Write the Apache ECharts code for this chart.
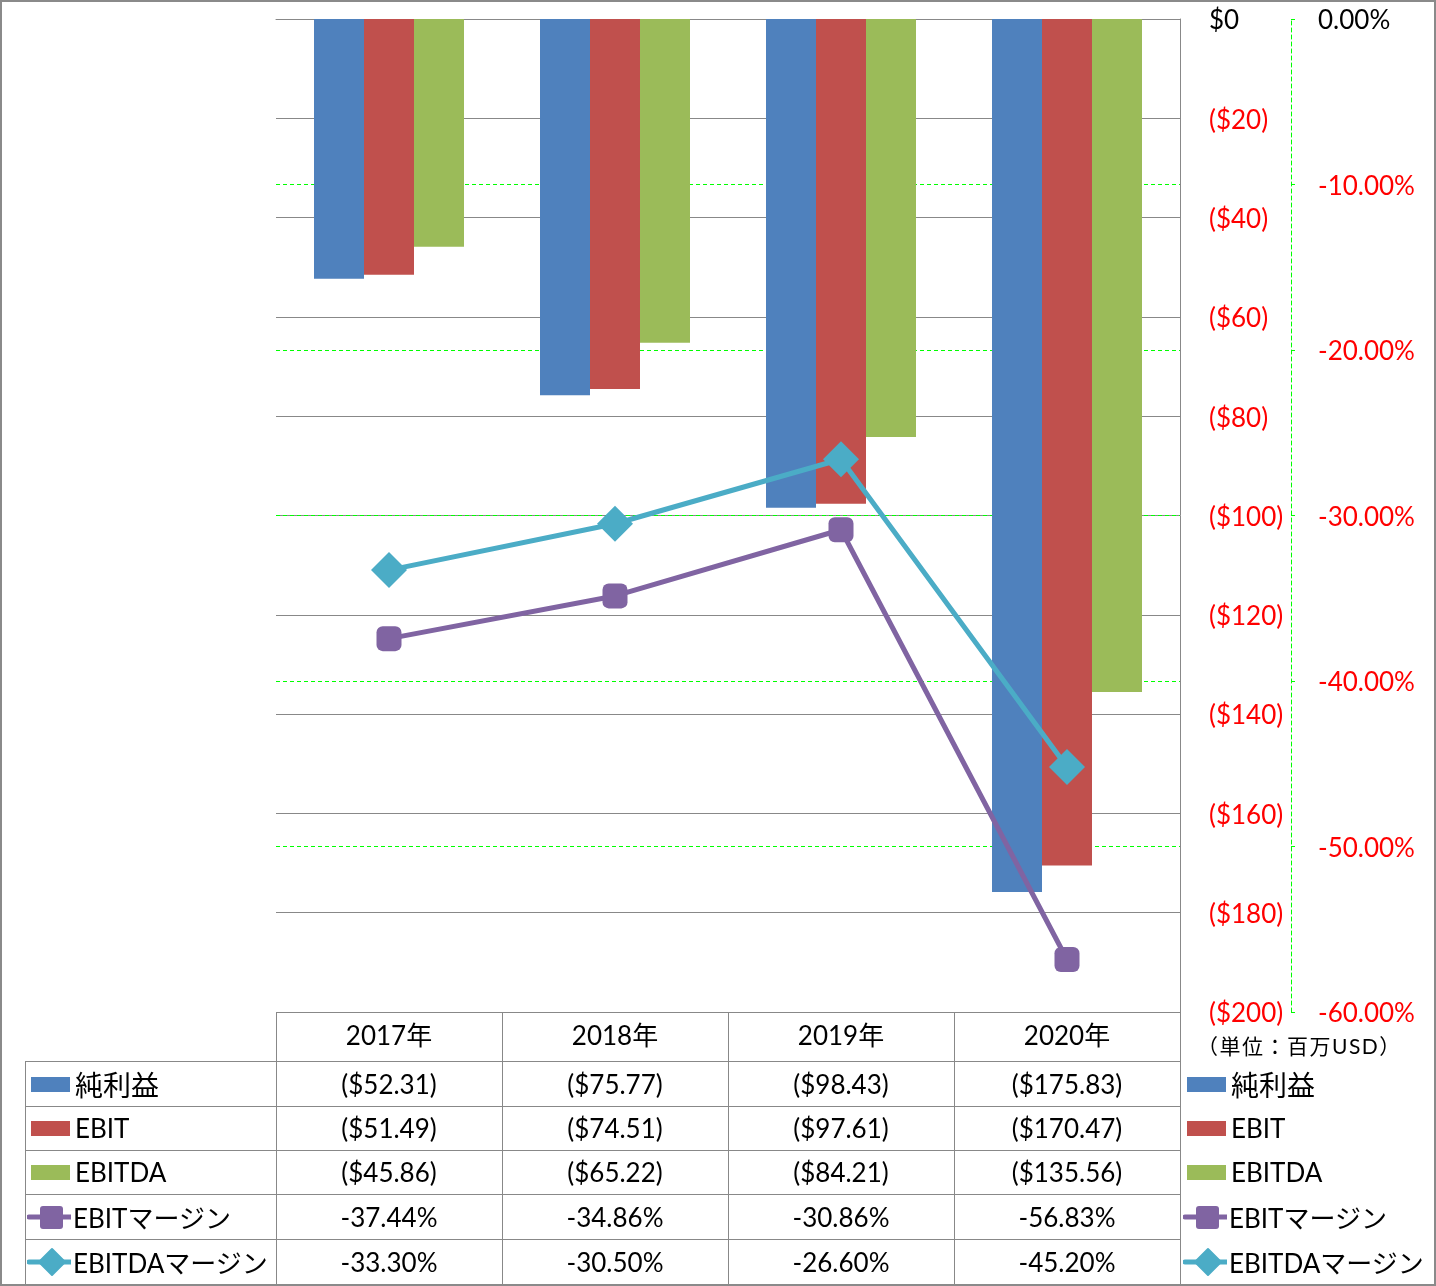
<!DOCTYPE html>
<html><head><meta charset="utf-8">
<script src="https://cdn.jsdelivr.net/npm/echarts@6/dist/echarts.min.js"></script>
<style>
html,body{margin:0;padding:0;background:#fff;}
#wrap{position:relative;width:1436px;height:1286px;overflow:hidden;font-family:Lato,'Noto Sans CJK JP',sans-serif;}
#chart{position:absolute;left:0;top:0;width:1436px;height:1286px;}
#over{position:absolute;left:0;top:0;width:1436px;height:1286px;pointer-events:none;}
.ln{position:absolute;background:#888;}
.cell{position:absolute;display:flex;align-items:center;justify-content:center;font-size:26px;color:#000;white-space:nowrap;}
.lab{position:absolute;display:flex;align-items:center;font-size:26px;color:#000;white-space:nowrap;}
#frame{position:absolute;left:0;top:0;width:1436px;height:1286px;box-sizing:border-box;border:2px solid #8a8a8a;pointer-events:none;}
</style></head>
<body>
<div id="wrap"><div id="chart"></div><div id="over"></div><div id="frame"></div></div>
<script>
// ---- data ----
const years = ['2017年', '2018年', '2019年', '2020年'];
const seriesNames = ['純利益', 'EBIT', 'EBITDA', 'EBITマージン', 'EBITDAマージン'];
const netIncome = [-52.31, -75.77, -98.43, -175.83];
const ebit = [-51.49, -74.51, -97.61, -170.47];
const ebitda = [-45.86, -65.22, -84.21, -135.56];
const ebitMargin = [-37.44, -34.86, -30.86, -56.83];
const ebitdaMargin = [-33.30, -30.50, -26.60, -45.20];
const unitLabel = '（単位：百万USD）';
const colors = ['#4F81BD', '#C0504D', '#9BBB59', '#8064A2', '#4BACC6'];

const FONT = "Lato, 'Noto Sans CJK JP', sans-serif";
const fmtMoney = v => '($' + Math.abs(v).toFixed(2) + ')';
const fmtPct = v => v.toFixed(2) + '%';

const chart = echarts.init(document.getElementById('chart'), null, {renderer: 'canvas'});
const dash = [4, 3];
const richB = {color: '#000', fontSize: 26, fontFamily: FONT, padding: [4, 0, 0, 0]};
const richR = {color: '#ff0000', fontSize: 26, fontFamily: FONT, padding: [4, 0, 0, 0]};
chart.setOption({
  animation: false,
  grid: {left: 276, top: 19, width: 904, height: 993, containLabel: false},
  xAxis: {
    type: 'category', data: years,
    axisLine: {show: true, lineStyle: {color: '#888', width: 1}},
    axisTick: {show: false},
    axisLabel: {fontSize: 26, color: '#000', margin: 12, fontFamily: FONT},
    splitLine: {show: false}
  },
  yAxis: [
    {
      type: 'value', min: -200, max: 0, interval: 20, position: 'right',
      axisLine: {show: true, lineStyle: {color: '#888', width: 1}},
      axisTick: {show: false},
      axisLabel: {
        margin: 29, fontSize: 26, fontFamily: FONT,
        formatter: v => v === 0 ? '{b|$0}' : '{r|($' + Math.abs(v) + ')}',
        rich: {b: richB, r: richR}
      },
      splitLine: {show: true, lineStyle: {color: '#888', width: 1}}
    },
    {
      type: 'value', min: -60, max: 0, interval: 10, position: 'right', offset: 111,
      axisLine: {show: true, lineStyle: {color: '#00ff00', width: 1, type: dash}},
      axisTick: {show: true, length: 7, lineStyle: {color: '#00ff00', width: 1, type: dash}},
      axisLabel: {
        margin: 27, fontSize: 26, fontFamily: FONT,
        formatter: v => v === 0 ? '{b|0.00%}' : '{r|' + fmtPct(v) + '}',
        rich: {b: richB, r: richR}
      },
      splitLine: {show: true, showMaxLine: false, showMinLine: false, lineStyle: {color: '#00ff00', width: 1, type: dash}}
    }
  ],
  series: [
    {name: seriesNames[0], type: 'bar', data: netIncome, barWidth: 50, barGap: '0%', itemStyle: {color: colors[0]}},
    {name: seriesNames[1], type: 'bar', data: ebit, barWidth: 50, barGap: '0%', itemStyle: {color: colors[1]}},
    {name: seriesNames[2], type: 'bar', data: ebitda, barWidth: 50, barGap: '0%', itemStyle: {color: colors[2]}},
    {name: seriesNames[3], type: 'line', yAxisIndex: 1, data: ebitMargin, symbol: 'roundRect', symbolSize: 25,
      lineStyle: {color: colors[3], width: 5}, itemStyle: {color: colors[3]}, z: 5},
    {name: seriesNames[4], type: 'line', yAxisIndex: 1, data: ebitdaMargin, symbol: 'diamond', symbolSize: 36,
      lineStyle: {color: colors[4], width: 5}, itemStyle: {color: colors[4]}, z: 6}
  ]
});

// ---- data table & legend (HTML overlay built from the arrays) ----
const over = document.getElementById('over');
const colX = [276, 502, 728, 954, 1180];
const rowY = [1061, 1106, 1150, 1194, 1239, 1284];
const tableL = 25;
function el(cls, l, t, w, h, html) {
  const d = document.createElement('div');
  d.className = cls;
  d.style.left = l + 'px'; d.style.top = t + 'px';
  if (w != null) d.style.width = w + 'px';
  if (h != null) d.style.height = h + 'px';
  if (html != null) d.innerHTML = html;
  over.appendChild(d);
  return d;
}
colX.forEach(x => el('ln', x, 1012, 1, 1284 - 1012));
el('ln', tableL, rowY[0], 1, 1284 - rowY[0]);
rowY.forEach(y => el('ln', tableL, y, 1180 - tableL + 1, 1));

function icon(i) {
  const c = colors[i];
  if (i < 3) return '<svg width="44" height="30"><rect x="4" y="8" width="39" height="15" fill="' + c + '"/></svg>';
  if (i === 3) return '<svg width="44" height="30"><line x1="2" y1="15" x2="44" y2="15" stroke="' + c + '" stroke-width="5" stroke-linecap="round"/><rect x="13" y="4" width="23" height="23" rx="3" fill="' + c + '"/></svg>';
  return '<svg width="44" height="30"><line x1="2" y1="15" x2="44" y2="15" stroke="' + c + '" stroke-width="5" stroke-linecap="round"/><path d="M25 2 L38 15 L25 28 L12 15 Z" fill="' + c + '" stroke="' + c + '" stroke-width="2" stroke-linejoin="round"/></svg>';
}
const rowsData = [netIncome, ebit, ebitda, ebitMargin, ebitdaMargin];
rowsData.forEach((arr, r) => {
  const y0 = rowY[r], h = rowY[r + 1] - rowY[r];
  const nameHtml = r === 0 ? '<span style="font-size:28px">' + seriesNames[r] + '</span>' : seriesNames[r];
  const padText = (r < 3) ? 2 : 0;
  el('lab', 27, y0, 250, h, '<span style="display:inline-flex;width:' + (46 + padText) + 'px">' + icon(r) + '</span>' + nameHtml);
  arr.forEach((v, c) => {
    el('cell', colX[c], y0, colX[c + 1] - colX[c], h, r < 3 ? fmtMoney(v) : fmtPct(v));
  });
  el('lab', 1183, y0, 260, h, '<span style="display:inline-flex;width:' + (46 + padText) + 'px">' + icon(r) + '</span>' + nameHtml);
});
el('lab', 1197, 1028, 240, 34, '<span style="font-size:21px;letter-spacing:1.5px">' + unitLabel + '</span>');
</script>
</body></html>
